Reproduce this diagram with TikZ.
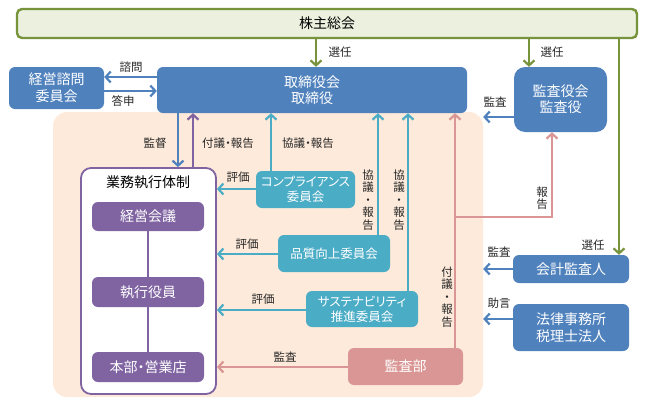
\documentclass[tikz,border=0pt]{standalone}
\usepackage{fontspec}
\setmainfont{Noto Sans CJK JP}[RawFeature=+palt]
\usepackage{tikz}
\usetikzlibrary{arrows.meta, positioning, calc}
\usepackage{xcolor}
\definecolor{boardblue}{RGB}{79,129,189}
\definecolor{cmteal}{RGB}{75,172,198}
\definecolor{execpurple}{RGB}{128,100,162}
\definecolor{auditpink}{RGB}{217,150,148}
\definecolor{meetgreen}{RGB}{119,147,60}
\definecolor{meetfill}{RGB}{235,241,222}
\definecolor{zonepeach}{RGB}{253,234,218}
\definecolor{labelgray}{RGB}{38,38,38}

\begin{document}
\begin{tikzpicture}[x=1pt, y=-1pt,
  box/.style={rounded corners=6pt, text=white, align=center, inner sep=0pt,
    font=\fontsize{14}{16}\selectfont},
  bluebox/.style={box, fill=boardblue},
  cmbox/.style={box, fill=cmteal, font=\fontsize{12.5}{15}\selectfont},
  execbox/.style={box, fill=execpurple, minimum width=112, minimum height=29},
  lbl/.style={text=labelgray, inner sep=0pt, font=\fontsize{11.5}{13}\selectfont},
  vlbl/.style={lbl, align=center, font=\fontsize{11.5}{12.5}\selectfont},
  tip/.style={-{Straight Barb[length=5pt, width=11pt, line width=2.2pt]}},
  garrow/.style={tip, meetgreen, line width=2.6pt},
  barrow/.style={tip, boardblue, line width=2.6pt},
  carrow/.style={tip, cmteal, line width=2.6pt},
  parrow/.style={tip, auditpink, line width=2.6pt},
  varrow/.style={tip, execpurple, line width=2.6pt}]
  \useasboundingbox (0,0) rectangle (648,408);

  % area of the executive side
  \node[fill=zonepeach, rounded corners=14pt, minimum width=430, minimum height=285, inner sep=0pt] (zone) at (268,254.5) {};

  \node[draw=meetgreen, line width=2.4pt, fill=meetfill, rounded corners=5pt, minimum width=620, minimum height=29,
    inner sep=0pt, font=\fontsize{14}{16}\selectfont] (soukai) at (327,23.5) {株主総会};
  \node[bluebox, minimum width=310, minimum height=46] (board) at (312,90) {取締役会\\取締役};
  \node[bluebox, minimum width=95, minimum height=42, font=\fontsize{14}{17}\selectfont] (advisory) at (56.5,88) {経営諮問\\委員会};
  \node[bluebox, rounded corners=11pt, minimum width=93, minimum height=65] (kansayaku) at (560.5,99.5) {監査役会\\監査役};
  \node[bluebox, minimum width=116, minimum height=28] (auditor) at (571,269) {会計監査人};
  \node[bluebox, minimum width=116, minimum height=47, font=\fontsize{14}{17}\selectfont] (legal) at (571,327.5) {法律事務所\\税理士法人};

  % executive structure
  \node[draw=execpurple, line width=1.8pt, fill=white, rounded corners=10pt, minimum width=135, minimum height=226, inner sep=0pt] (exec) at (148.5,281) {};
  \node[lbl, text=black, font=\fontsize{14}{16}\selectfont] (exectitle) at (148,182) {業務執行体制};
  \node[execbox] (keiei) at (148,216.5) {経営会議};
  \node[execbox, minimum height=30] (shikko) at (148,292) {執行役員};
  \node[execbox, minimum height=30] (honbu) at (148,367) {本部・営業店};
  \draw[execpurple, line width=2.2pt] (keiei.south) -- (shikko.north);
  \draw[execpurple, line width=2.2pt] (shikko.south) -- (honbu.north);

  % committees
  \node[cmbox, minimum width=99, minimum height=37] (comp) at (305.5,189.5) {コンプライアンス\\委員会};
  \node[cmbox, minimum width=112, minimum height=37] (quality) at (334,253.5) {品質向上委員会};
  \node[cmbox, minimum width=112, minimum height=36] (sustain) at (362,309) {サステナビリティ\\推進委員会};
  \node[box, fill=auditpink, minimum width=115, minimum height=37] (auditdept) at (405.5,366.5) {監査部};

  % appointment
  \draw[garrow] (soukai.south -| 316,0) -- (board.north -| 316,0);
  \draw[garrow] (soukai.south -| 529,0) -- (kansayaku.north -| 529,0);
  \draw[garrow] (soukai.south -| 619,0) -- (auditor.north -| 619,0);
  \node[lbl] (elect1) at (340,52) {選任};
  \node[lbl] (elect2) at (552,52) {選任};
  \node[lbl] (elect3) at (593,245) {選任};

  \draw[barrow] (board.west |- 0,77) -- (advisory.east |- 0,77);
  \draw[barrow] (advisory.east |- 0,91) -- (board.west |- 0,91);
  \node[lbl] (consult) at (131,67) {諮問};
  \node[lbl] (answer) at (123,101) {答申};

  \draw[barrow] (kansayaku.west |- 0,117) -- (zone.east |- 0,117);
  \node[lbl] (audit1) at (495,102) {監査};
  \draw[barrow] (auditor.west) -- (zone.east |- auditor.west);
  \node[lbl] (audit2) at (499,252) {監査};
  \draw[barrow] (legal.west |- 0,319) -- (zone.east |- 0,319);
  \node[lbl] (advice) at (499,303) {助言};

  % supervision and reporting
  \draw[barrow] (board.south -| 178,0) -- (exec.north -| 178,0);
  \draw[varrow] (exec.north -| 193,0) -- (board.south -| 193,0);
  \node[lbl] (supervise) at (155,143) {監督};
  \node[lbl] (report1) at (228,143) {付議・報告};

  \draw[carrow] (comp.north -| 271,0) -- (board.south -| 271,0);
  \draw[carrow] (quality.north -| 378,0) -- (board.south -| 378,0);
  \draw[carrow] (sustain.north -| 408,0) -- (board.south -| 408,0);
  \node[lbl] (discuss1) at (308,143) {協議・報告};
  \node[vlbl] (discuss2) at (368,200) {協\\議\\・\\報\\告};
  \node[vlbl] (discuss3) at (399,200) {協\\議\\・\\報\\告};

  \draw[carrow] (comp.west |- 0,189) -- (exec.east |- 0,189);
  \draw[carrow] (quality.west |- 0,254) -- (exec.east |- 0,254);
  \draw[carrow] (sustain.west |- 0,310) -- (exec.east |- 0,310);
  \node[lbl] (eval1) at (238,177) {評価};
  \node[lbl] (eval2) at (247,244) {評価};
  \node[lbl] (eval3) at (263,299) {評価};

  % internal audit
  \draw[parrow] (auditdept.west |- 0,367) -- (exec.east |- 0,367);
  \node[lbl] (audit3) at (285,357) {監査};
  \draw[parrow] (auditdept.north -| 455,0) -- (board.south -| 455,0);
  \coordinate (branch) at (455,217);
  \draw[parrow] (branch) -| (kansayaku.south -| 552,0);
  \node[vlbl] (report2) at (447,297) {付\\議\\・\\報\\告};
  \node[vlbl] (report3) at (542,198) {報\\告};
\end{tikzpicture}
\end{document}
